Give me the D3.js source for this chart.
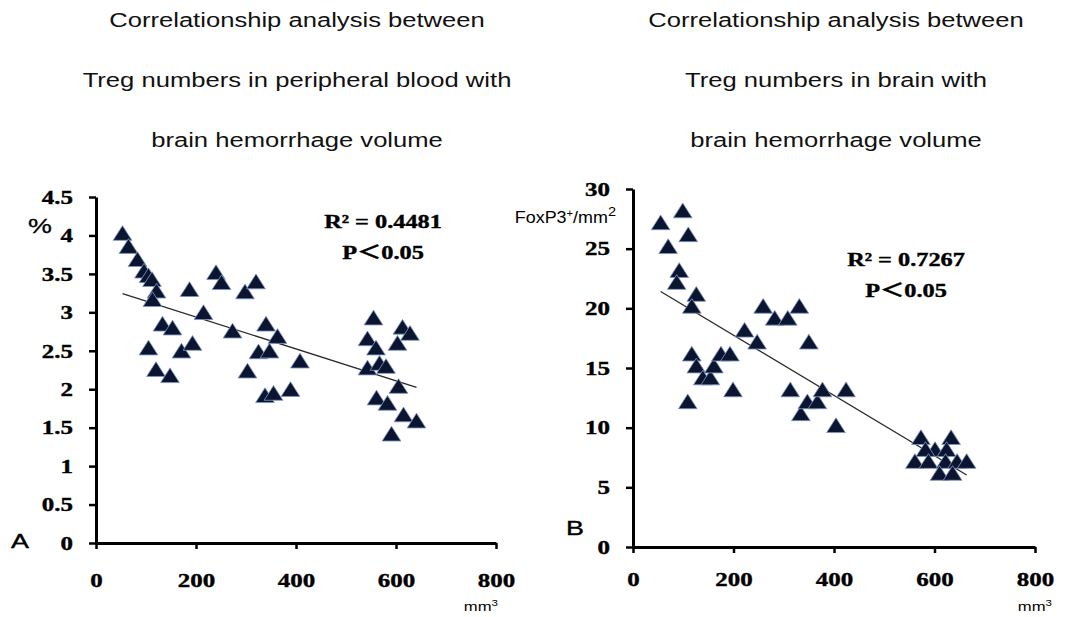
<!DOCTYPE html>
<html>
<head>
<meta charset="utf-8">
<style>
  body { margin: 0; background: #fff; }
  svg { display: block; }
  .num { font-family: "Liberation Serif", "Times New Roman", "Noto Sans CJK SC", serif; font-weight: bold; fill: #000; }
  .lab { font-family: "Liberation Sans", Arial, sans-serif; fill: #000; }
</style>
</head>
<body>
<svg width="1068" height="617"></svg>
<script src="https://cdn.jsdelivr.net/npm/d3@7"></script>
<script>

// Panel A: Treg % in peripheral blood vs hemorrhage volume (mm3)
var volumeA = [53, 65, 83, 96, 105, 112, 121, 113, 133, 153, 105, 120, 148, 171, 193, 187, 215, 240, 251, 273,
               298, 320, 303, 325, 340, 347, 363, 338, 355, 389, 408, 555, 543, 613, 628, 560, 603, 543, 567, 580,
               605, 561, 583, 615, 641, 591];
var tregA   = [4.0, 3.83, 3.66, 3.51, 3.45, 3.40, 3.25, 3.14, 2.82, 2.77, 2.51, 2.23, 2.15, 2.47, 2.57, 3.27, 2.97, 3.49, 3.36, 2.73,
               3.24, 3.37, 2.21, 2.46, 2.82, 2.47, 2.66, 1.89, 1.92, 1.97, 2.34, 2.90, 2.63, 2.78, 2.70, 2.51, 2.57, 2.25, 2.31, 2.27,
               2.01, 1.86, 1.79, 1.64, 1.56, 1.39];

// Panel B: FoxP3+ cells per mm2 in brain vs hemorrhage volume (mm3)
var volumeB = [55, 99, 70, 110, 92, 87, 126, 117, 117, 126, 139, 154, 161, 175, 193, 109, 199, 222, 247, 259,
               282, 308, 331, 350, 313, 334, 347, 367, 377, 424, 404, 573, 633, 601, 582, 624, 561, 588, 622, 645,
               664, 610, 636];
var tregB   = [27, 28, 25, 26, 23, 22, 21, 20, 16, 15, 14, 14, 15, 16, 16, 12, 13, 18, 17, 20,
               19, 19, 20, 17, 13, 11, 12, 12, 13, 13, 10, 9, 9, 8, 8, 8, 7, 7, 7, 7,
               7, 6, 6];

var xTicks = [0, 200, 400, 600, 800];
var yTicksA = [0, 0.5, 1, 1.5, 2, 2.5, 3, 3.5, 4, 4.5];
var yTicksB = [0, 5, 10, 15, 20, 25, 30];

var titleA = ["Correlationship analysis between", "Treg numbers in peripheral blood with", "brain hemorrhage volume"];
var titleB = ["Correlationship analysis between", "Treg numbers in brain with", "brain hemorrhage volume"];
var statsA = ["R\u00b2 = 0.4481", "P\uff1c0.05"];
var statsB = ["R\u00b2 = 0.7267", "P\uff1c0.05"];

var svg = d3.select("svg"),
    stretch = 1.28,
    serif = "'Liberation Serif', 'Times New Roman', serif";

function fit(xs, ys) {
  var mx = d3.mean(xs), my = d3.mean(ys), sxy = 0, sxx = 0;
  xs.forEach(function(x, i) { sxy += (x - mx) * (ys[i] - my); sxx += (x - mx) * (x - mx); });
  var b = sxy / sxx;
  return {slope: b, intercept: my - b * mx};
}

function boldNum(sel, size) {
  sel.attr("class", "num")
      .attr("font-family", serif)
      .attr("font-weight", "bold")
      .style("font-family", serif)
      .style("font-weight", "bold")
      .style("font-size", size + "px")
      .style("stroke", "#000")
      .style("stroke-width", "0.4px");
}

function panel(opt) {
  var x = d3.scaleLinear().domain([0, 800]).range(opt.xr),
      y = d3.scaleLinear().domain(opt.yd).range(opt.yr),
      g = svg.append("g");

  opt.title.forEach(function(t, i) {
    g.append("text")
        .attr("class", "lab")
        .attr("transform", "translate(" + opt.titleX + "," + (27 + i * 60) + ") scale(" + stretch + ",1)")
        .attr("text-anchor", "middle")
        .style("font-size", "20px")
        .style("fill", "#111")
        .text(t);
  });

  var ya = g.append("g")
      .attr("font-family", serif)
      .attr("transform", "translate(" + opt.xr[0] + ",0)")
      .call(d3.axisLeft(y).tickValues(opt.yTicks).tickSize(7).tickSizeOuter(0).tickFormat(d3.format("")));
  ya.attr("font-family", serif);
  ya.select(".domain").attr("stroke-width", 3);
  ya.selectAll(".tick line").attr("stroke-width", 2.5);
  ya.selectAll(".tick text")
      .attr("x", -23 / stretch)
      .attr("transform", "scale(" + stretch + ",1)")
      .call(boldNum, 19.5);

  var xa = g.append("g")
      .attr("transform", "translate(0," + opt.yr[0] + ")")
      .call(d3.axisBottom(x).tickValues(xTicks).tickSize(6).tickSizeOuter(0));
  xa.attr("font-family", serif);
  xa.select(".domain").attr("stroke-width", 3);
  xa.selectAll(".tick line").attr("stroke-width", 2.5);
  xa.selectAll(".tick text")
      .attr("y", opt.xLabelY)
      .attr("dy", 0)
      .attr("transform", "scale(" + stretch + ",1)")
      .call(boldNum, 19.5);

  var f = fit(opt.xs, opt.ys),
      x0 = d3.min(opt.xs), x1 = d3.max(opt.xs);
  g.append("line")
      .attr("x1", x(x0))
      .attr("y1", y(f.intercept + f.slope * x0))
      .attr("x2", x(x1))
      .attr("y2", y(f.intercept + f.slope * x1))
      .attr("stroke", "#2a2a2a")
      .attr("stroke-width", 1.3);

  g.append("g")
    .selectAll("path")
    .data(opt.xs)
    .enter().append("path")
      .attr("transform", function(d, i) { return "translate(" + x(d) + "," + y(opt.ys[i]) + ") scale(1.1,1)"; })
      .attr("d", d3.symbol().type(d3.symbolTriangle).size(125))
      .attr("fill", "#0b1530")
      .attr("stroke", "#7d95c4")
      .attr("stroke-width", 0.8);

  opt.stats.forEach(function(t, i) {
    g.append("text")
        .attr("transform", "translate(" + opt.statsX + "," + (opt.statsY + i * 31) + ") scale(" + stretch + ",1)")
        .attr("text-anchor", "middle")
        .call(boldNum, 19)
        .style("font-family", "'Liberation Serif', 'Times New Roman', 'Noto Sans CJK SC', serif")
        .text(t);
  });

  g.append("text")
      .attr("class", "lab")
      .attr("transform", "translate(" + opt.letter[0] + "," + opt.letter[1] + ") scale(" + stretch + ",1)")
      .style("font-size", "21px")
      .style("stroke", "#000")
      .style("stroke-width", "0.4px")
      .text(opt.letter[2]);

  var mm = g.append("text")
      .attr("class", "lab")
      .attr("transform", "translate(" + opt.mmX + ",611) scale(" + stretch + ",1)")
      .attr("text-anchor", "end")
      .style("font-size", "13px")
      .text("mm");
  mm.append("tspan").style("font-size", "9px").attr("dy", -5).text("3");

  return g;
}

var gA = panel({
  xs: volumeA, ys: tregA, xr: [96, 496], yd: [0, 4.5], yr: [543, 197], yTicks: yTicksA,
  title: titleA, titleX: 297, stats: statsA, statsX: 383, statsY: 228,
  letter: [11, 548, "A"], mmX: 498, xLabelY: 44
});

var gB = panel({
  xs: volumeB, ys: tregB, xr: [633, 1035], yd: [0, 30], yr: [547, 189], yTicks: yTicksB,
  title: titleB, titleX: 836, stats: statsB, statsX: 906, statsY: 266,
  letter: [566, 535, "B"], mmX: 1052, xLabelY: 39
});

gA.append("text")
    .attr("class", "lab")
    .attr("transform", "translate(28,233) scale(" + stretch + ",1)")
    .style("font-size", "21px")
    .style("stroke", "#000")
    .style("stroke-width", "0.3px")
    .text("%");

var unitB = gB.append("text")
    .attr("class", "lab")
    .attr("transform", "translate(616,223) scale(1.12,1)")
    .attr("text-anchor", "end")
    .style("font-size", "16px")
    .text("FoxP3");
unitB.append("tspan").style("font-size", "10px").attr("dy", -6).text("+");
unitB.append("tspan").attr("dy", 6).text("/mm");
unitB.append("tspan").style("font-size", "13px").attr("dy", -7).text("2");

</script>
</body>
</html>
